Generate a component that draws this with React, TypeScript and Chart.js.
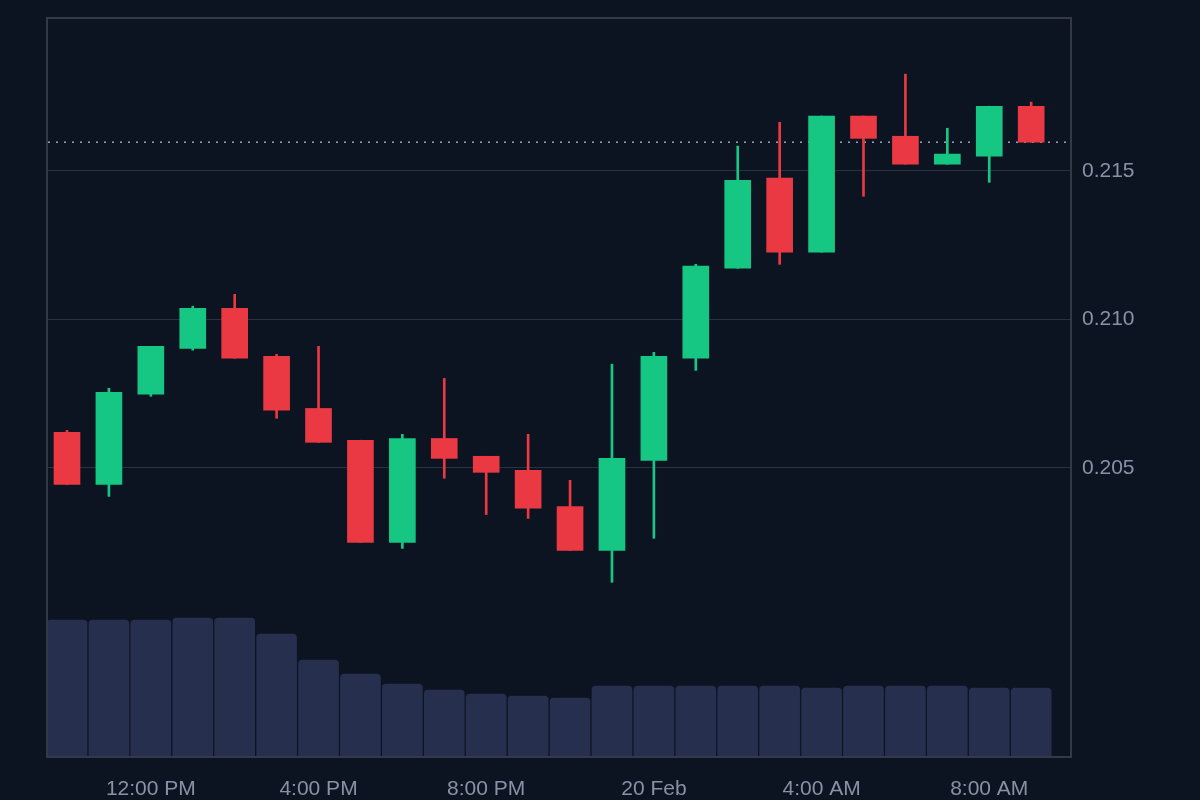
import React, { useEffect, useRef } from 'react';
import { Chart, registerables } from 'chart.js';

Chart.register(...registerables);

// Hourly candles, 19 Feb 10:00 AM -> 20 Feb 9:00 AM
const hours = [
  '10:00 AM', '11:00 AM', '12:00 PM', '1:00 PM', '2:00 PM', '3:00 PM', '4:00 PM', '5:00 PM',
  '6:00 PM', '7:00 PM', '8:00 PM', '9:00 PM', '10:00 PM', '11:00 PM', '20 Feb', '1:00 AM',
  '2:00 AM', '3:00 AM', '4:00 AM', '5:00 AM', '6:00 AM', '7:00 AM', '8:00 AM', '9:00 AM',
];

const opens = [
  0.20620, 0.20444, 0.20748, 0.20902, 0.21037, 0.20875, 0.20700, 0.20593,
  0.20249, 0.20599, 0.20539, 0.20492, 0.20370, 0.20222, 0.20525, 0.20869,
  0.21172, 0.21475, 0.21226, 0.21684, 0.21616, 0.21522, 0.21549, 0.21717,
];
const highs = [
  0.20626, 0.20768, 0.20909, 0.21044, 0.21084, 0.20882, 0.20909, 0.20593,
  0.20613, 0.20801, 0.20539, 0.20613, 0.20458, 0.20849, 0.20889, 0.21185,
  0.21583, 0.21663, 0.21684, 0.21684, 0.21825, 0.21643, 0.21717, 0.21731,
];
const lows = [
  0.20444, 0.20404, 0.20741, 0.20896, 0.20869, 0.20667, 0.20586, 0.20249,
  0.20229, 0.20465, 0.20343, 0.20330, 0.20222, 0.20115, 0.20263, 0.20828,
  0.21172, 0.21185, 0.21226, 0.21414, 0.21522, 0.21522, 0.21461, 0.21596,
];
const closes = [
  0.20444, 0.20754, 0.20909, 0.21037, 0.20869, 0.20694, 0.20586, 0.20249,
  0.20599, 0.20532, 0.20485, 0.20364, 0.20222, 0.20532, 0.20875, 0.21179,
  0.21468, 0.21226, 0.21684, 0.21609, 0.21522, 0.21556, 0.21717, 0.21596,
];
// volume in millions
const volumes = [
  13.7, 13.7, 13.7, 13.9, 13.9, 12.3, 9.7, 8.3,
  7.3, 6.7, 6.3, 6.1, 5.9, 7.1, 7.1, 7.1,
  7.1, 7.1, 6.9, 7.1, 7.1, 7.1, 6.9, 6.9,
];

const tickIndexes = [2, 6, 10, 14, 18, 22];
const tickLabels = ['12:00 PM', '4:00 PM', '8:00 PM', '20 Feb', '4:00 AM', '8:00 AM'];
const priceTicks = [0.205, 0.21, 0.215];

const GREEN = '#16c784';
const RED = '#ea3943';
const BG = '#0d1421';
const TEXT = '#8a91a5';
const GRID = '#2c3140';
const BORDER = '#343949';
const VOL = '#262f4e';

export default function App() {
  const ref = useRef<HTMLCanvasElement | null>(null);

  useEffect(() => {
    if (!ref.current) return;
    const colors = opens.map((o, i) => (closes[i] >= o ? GREEN : RED));
    const lastClose = closes[closes.length - 1];

    const framePlugin = {
      id: 'frame',
      beforeDatasetsDraw(chart: any) {
        const { ctx, chartArea } = chart;
        const y = chart.scales.y.getPixelForValue(lastClose);
        ctx.save();
        ctx.strokeStyle = '#9ba1b2';
        ctx.lineWidth = 1.5;
        ctx.setLineDash([2, 6]);
        ctx.beginPath();
        ctx.moveTo(chartArea.left + 1, y);
        ctx.lineTo(chartArea.right - 2, y);
        ctx.stroke();
        ctx.restore();
      },
      afterDraw(chart: any) {
        const { ctx, chartArea } = chart;
        ctx.save();
        ctx.strokeStyle = BORDER;
        ctx.lineWidth = 2;
        ctx.strokeRect(chartArea.left, chartArea.top, chartArea.right - chartArea.left, chartArea.bottom - chartArea.top);
        ctx.restore();
      },
    };

    Chart.defaults.font.family = "'Liberation Sans', Arial, sans-serif";

    const chart = new Chart(ref.current, {
      type: 'bar',
      data: {
        labels: hours,
        datasets: [
          {
            label: 'Volume',
            data: volumes.map((v, i) => ({ x: i, y: v })),
            yAxisID: 'yv',
            backgroundColor: VOL,
            barThickness: 40,
            borderRadius: { topLeft: 4, topRight: 4, bottomLeft: 0, bottomRight: 0 },
            borderSkipped: false,
            grouped: false,
            order: 3,
          } as any,
          {
            label: 'Wick',
            data: lows.map((l, i) => ({ x: i, y: [l, highs[i]] })),
            yAxisID: 'y',
            backgroundColor: colors,
            barThickness: 2,
            grouped: false,
            order: 2,
          } as any,
          {
            label: 'Body',
            data: opens.map((o, i) => ({ x: i, y: [o, closes[i]] })),
            yAxisID: 'y',
            backgroundColor: colors,
            barThickness: 26,
            grouped: false,
            order: 1,
          } as any,
        ],
      },
      options: {
        animation: false,
        responsive: false,
        layout: { padding: { left: 47, top: 18, right: 0, bottom: 0 } },
        plugins: { legend: { display: false }, tooltip: { enabled: false } },
        scales: {
          x: {
            type: 'linear',
            min: -0.477,
            max: 23.95,
            offset: false,
            grid: { display: false, offset: false },
            border: { display: false },
            afterBuildTicks: (scale: any) => {
              scale.ticks = tickIndexes.map((v) => ({ value: v }));
            },
            afterFit: (scale: any) => {
              scale.height = 43;
              scale.paddingLeft = 0;
              scale.paddingRight = 0;
            },
            ticks: {
              autoSkip: false,
              maxRotation: 0,
              color: TEXT,
              font: { size: 21 },
              padding: 12,
              callback: (v: any) => tickLabels[tickIndexes.indexOf(Number(v))] ?? '',
            },
          },
          y: {
            position: 'right',
            min: 0.19527,
            max: 0.22014,
            grid: { color: GRID, lineWidth: 1, drawTicks: false },
            border: { display: false },
            afterBuildTicks: (scale: any) => {
              scale.ticks = priceTicks.map((v) => ({ value: v }));
            },
            afterFit: (scale: any) => {
              scale.width = 129;
              scale.paddingTop = 0;
              scale.paddingBottom = 0;
            },
            ticks: {
              color: TEXT,
              font: { size: 21 },
              padding: 11,
              callback: (v: any) => Number(v).toFixed(3),
            },
          },
          yv: {
            display: false,
            min: 0,
            max: 73.9,
          },
        },
      } as any,
      plugins: [framePlugin],
    });

    return () => chart.destroy();
  }, []);

  return (
    <div style={{ position: 'fixed', left: 0, top: 0, width: 1200, height: 800, background: BG }}>
      <canvas ref={ref} width={1200} height={800} style={{ display: 'block' }} />
    </div>
  );
}
